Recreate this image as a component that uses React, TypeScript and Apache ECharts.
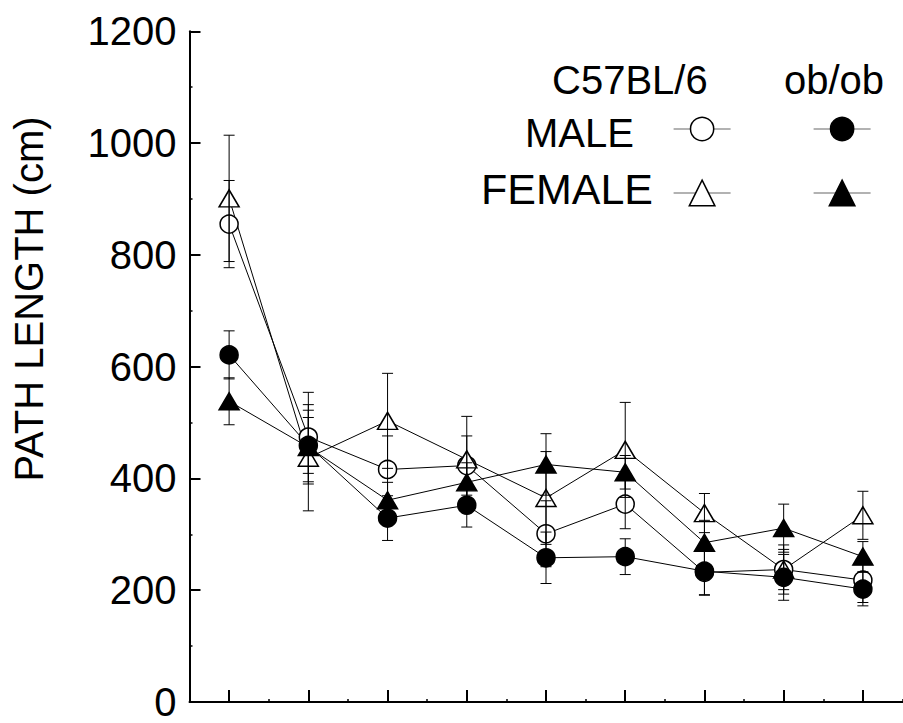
import React, { useEffect, useRef } from "react";
import * as echarts from "echarts";

const categories = ["1", "2", "3", "4", "5", "6", "7", "8", "9"];
const yTicks = { min: 0, max: 1200, interval: 200 };

const c57Male = [855, 474, 416, 423, 301, 354, 232, 237, 218];
const c57MaleErr = [78, 80, 60, 53, 59, 44, 40, 36, 40];
const c57Female = [901, 437, 503, 434, 365, 451, 338, 237, 334];
const c57FemaleErr = [113, 95, 85, 77, 83, 85, 35, 44, 43];
const obMale = [621, 459, 329, 352, 258, 260, 234, 223, 202];
const obMaleErr = [43, 50, 40, 39, 46, 32, 43, 41, 30];
const obFemale = [538, 456, 361, 393, 425, 411, 285, 311, 260];
const obFemaleErr = [42, 66, 32, 35, 55, 30, 40, 43, 27];

const FONT = "Liberation Sans, Arial, sans-serif";

const errData = (v: number[], e: number[]) => v.map((val, i) => [i, val - e[i], val + e[i]]);

const errorSeries = (name: string, v: number[], e: number[]) => ({
  type: "custom",
  name: name + " err",
  xAxisIndex: 0,
  yAxisIndex: 0,
  z: 5,
  silent: true,
  encode: { x: 0, y: [1, 2] },
  data: errData(v, e),
  renderItem: (params: any, api: any) => {
    const x = api.value(0);
    const lo = api.coord([x, api.value(1)]);
    const hi = api.coord([x, api.value(2)]);
    const half = 5.5;
    const st = { stroke: "#000", lineWidth: 1 };
    return {
      type: "group",
      children: [
        { type: "line", shape: { x1: hi[0], y1: hi[1], x2: lo[0], y2: lo[1] }, style: st },
        { type: "line", shape: { x1: hi[0] - half, y1: hi[1], x2: hi[0] + half, y2: hi[1] }, style: st },
        { type: "line", shape: { x1: lo[0] - half, y1: lo[1], x2: lo[0] + half, y2: lo[1] }, style: st },
      ],
    };
  },
});

const lineSeries = (name: string, v: number[], symbol: string, filled: boolean) => ({
  type: "line",
  name,
  xAxisIndex: 0,
  yAxisIndex: 0,
  z: 2,
  data: v,
  symbol,
  symbolSize: symbol === "triangle" ? [20, 17] : 18,
  showAllSymbol: true,
  itemStyle: { color: filled ? "#000" : "#fff", borderColor: "#000", borderWidth: 1.5 },
  lineStyle: { color: "#000", width: 1 },
  emphasis: { disabled: true },
});

const legendFor = (name: string, left: number, top: number, h: number, filled: boolean) => ({
  data: [name],
  left,
  top,
  padding: 0,
  itemGap: 0,
  itemWidth: 57,
  itemHeight: h,
  selectedMode: false,
  formatter: () => "",
  lineStyle: { color: "#666", width: 1.2 },
  itemStyle: { color: filled ? "#000" : "#fff", borderColor: "#000", borderWidth: 1.5 },
});

export default function App() {
  const ref = useRef<HTMLDivElement>(null);
  useEffect(() => {
    if (!ref.current) return;
    const chart = echarts.init(ref.current, undefined, { renderer: "svg" });
    const txt = (text: string, x: number, y: number, extra: any = {}) => ({
      type: "text",
      x,
      y,
      silent: true,
      rotation: extra.rotation || 0,
      style: {
        text,
        fontSize: extra.fontSize || 40,
        fontFamily: FONT,
        fill: "#000",
        align: extra.align || "left",
        textAlign: extra.align || "left",
        verticalAlign: "middle",
        textVerticalAlign: "middle",
      },
    });
    chart.setOption({
      animation: false,
      textStyle: { fontFamily: FONT },
      grid: { left: 189.5, right: 0.5, top: 31.25, bottom: 15.25, containLabel: false },
      xAxis: [
        {
          type: "category",
          data: categories,
          position: "bottom",
          boundaryGap: true,
          axisLine: { show: true, onZero: false, lineStyle: { color: "#000", width: 2 } },
          axisTick: { show: true, alignWithLabel: true, inside: true, length: 12, lineStyle: { color: "#000", width: 2 } },
          axisLabel: { show: false },
          splitLine: { show: false },
        },
        {
          type: "category",
          data: categories,
          position: "bottom",
          boundaryGap: true,
          axisLine: { show: false, onZero: false },
          axisTick: { show: true, alignWithLabel: false, inside: true, length: 3, lineStyle: { color: "#000", width: 1.5 } },
          axisLabel: { show: false },
          splitLine: { show: false },
        },
      ],
      yAxis: {
        type: "value",
        min: yTicks.min,
        max: yTicks.max,
        interval: yTicks.interval,
        axisLine: { show: true, lineStyle: { color: "#000", width: 2 } },
        axisTick: { show: true, inside: true, length: 11, lineStyle: { color: "#000", width: 2 } },
        minorTick: { show: true, splitNumber: 2, length: 3, lineStyle: { color: "#000", width: 1.5 } },
        axisLabel: {
          fontSize: 40,
          color: "#000",
          fontFamily: FONT,
          margin: 13,
          lineHeight: 36,
          padding: [0, 0, 6, 0],
          formatter: (v: number) => String(v),
        },
        splitLine: { show: false },
      },
      legend: [
        legendFor("C57BL/6 MALE", 673, 114.5, 29, false),
        legendFor("ob/ob MALE", 813, 114.5, 29, true),
        legendFor("C57BL/6 FEMALE", 673, 177, 32, false),
        legendFor("ob/ob FEMALE", 813, 177, 32, true),
      ],
      graphic: [
        txt("C57BL/6", 552, 80),
        txt("ob/ob", 784, 80),
        txt("MALE", 525, 133),
        txt("FEMALE", 481, 189, { fontSize: 43 }),
        txt("PATH LENGTH (cm)", 29, 299, { rotation: Math.PI / 2, align: "center" }),
      ],
      series: [
        lineSeries("C57BL/6 MALE", c57Male, "circle", false),
        lineSeries("C57BL/6 FEMALE", c57Female, "triangle", false),
        lineSeries("ob/ob MALE", obMale, "circle", true),
        lineSeries("ob/ob FEMALE", obFemale, "triangle", true),
        errorSeries("C57BL/6 MALE", c57Male, c57MaleErr),
        errorSeries("C57BL/6 FEMALE", c57Female, c57FemaleErr),
        errorSeries("ob/ob MALE", obMale, obMaleErr),
        errorSeries("ob/ob FEMALE", obFemale, obFemaleErr),
      ],
    });
    return () => chart.dispose();
  }, []);
  return (
    <div
      ref={ref}
      style={{ position: "fixed", left: 0, top: 0, width: 903, height: 723, background: "#fff" }}
    />
  );
}
